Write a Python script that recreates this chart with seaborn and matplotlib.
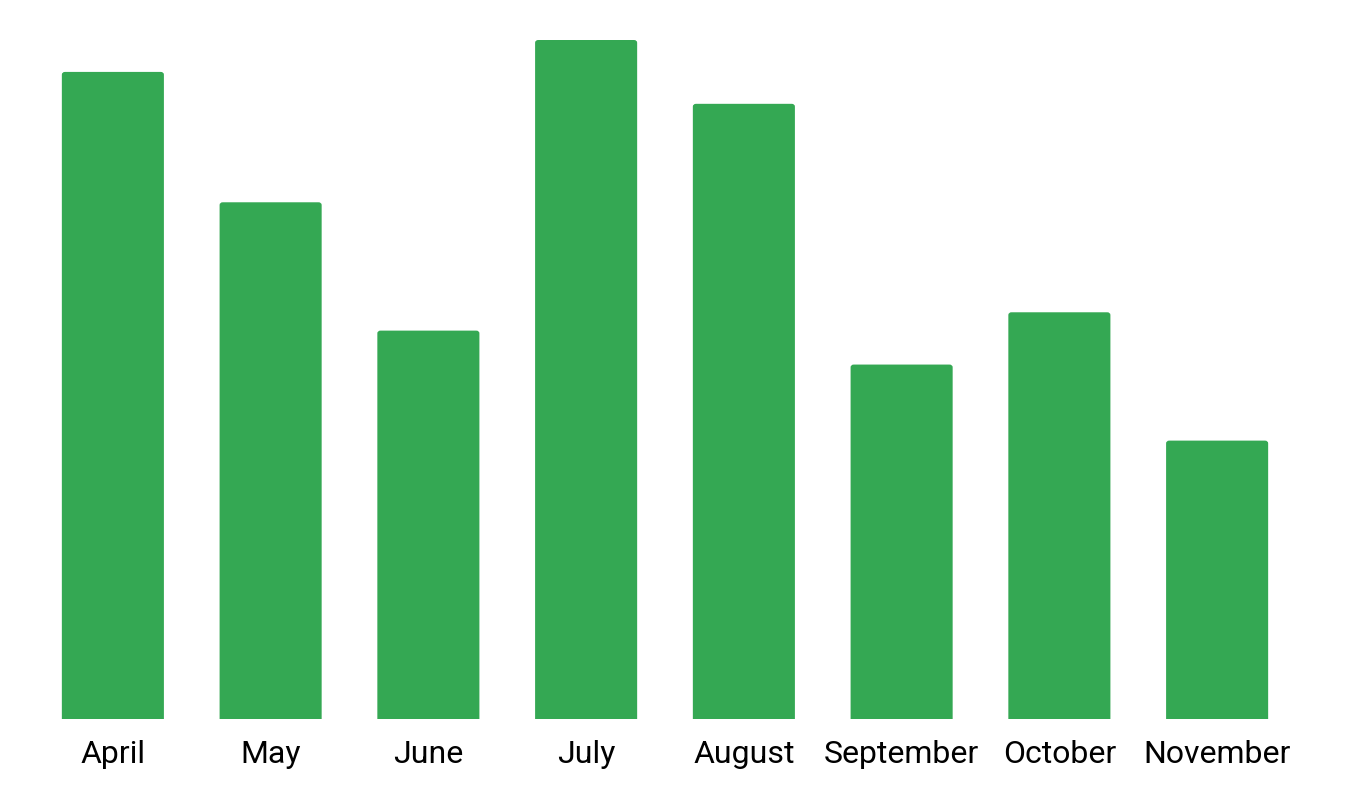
import matplotlib
matplotlib.use("Agg")
import matplotlib.pyplot as plt
import seaborn as sns
import pandas as pd
from matplotlib.patches import FancyBboxPatch

# valores (escala relativa, julho = 100)
meses = ["April", "May", "June", "July", "August", "September", "October", "November"]
valores = [95.3, 76.1, 57.2, 100.0, 90.6, 52.2, 59.9, 41.0]

df = pd.DataFrame({"mes": meses, "valor": valores})

sns.set_style("white")
plt.rcParams["font.family"] = ["Roboto", "DejaVu Sans"]

W, H = 1348, 790
fig = plt.figure(figsize=(W / 100, H / 100), dpi=100)
ax = fig.add_axes([34 / W, (H - 719) / H, 1262 / W, (719 - 40) / H])

sns.barplot(data=df, x="mes", y="valor", color="#34A853", saturation=1,
            width=0.647, ax=ax)

# trocando as barras por retangulos com cantos arredondados
for p in list(ax.patches):
    x, w, h = p.get_x(), p.get_width(), p.get_height()
    p.remove()
    box = FancyBboxPatch((x, -5), w, h + 5,
                         boxstyle="round,pad=0,rounding_size=0.02",
                         mutation_aspect=100 / 0.02 * 0.004,
                         facecolor="#34A853", edgecolor="none", clip_on=True)
    ax.add_patch(box)

ax.set_xlim(-0.5, len(meses) - 0.5)
ax.set_ylim(0, 100)
ax.set_xlabel("")
ax.set_ylabel("")
ax.set_yticks([])
ax.tick_params(axis="x", length=0, pad=15, labelsize=23, labelcolor="black")
sns.despine(ax=ax, left=True, bottom=True)

fig.savefig("out.png", dpi=100)
